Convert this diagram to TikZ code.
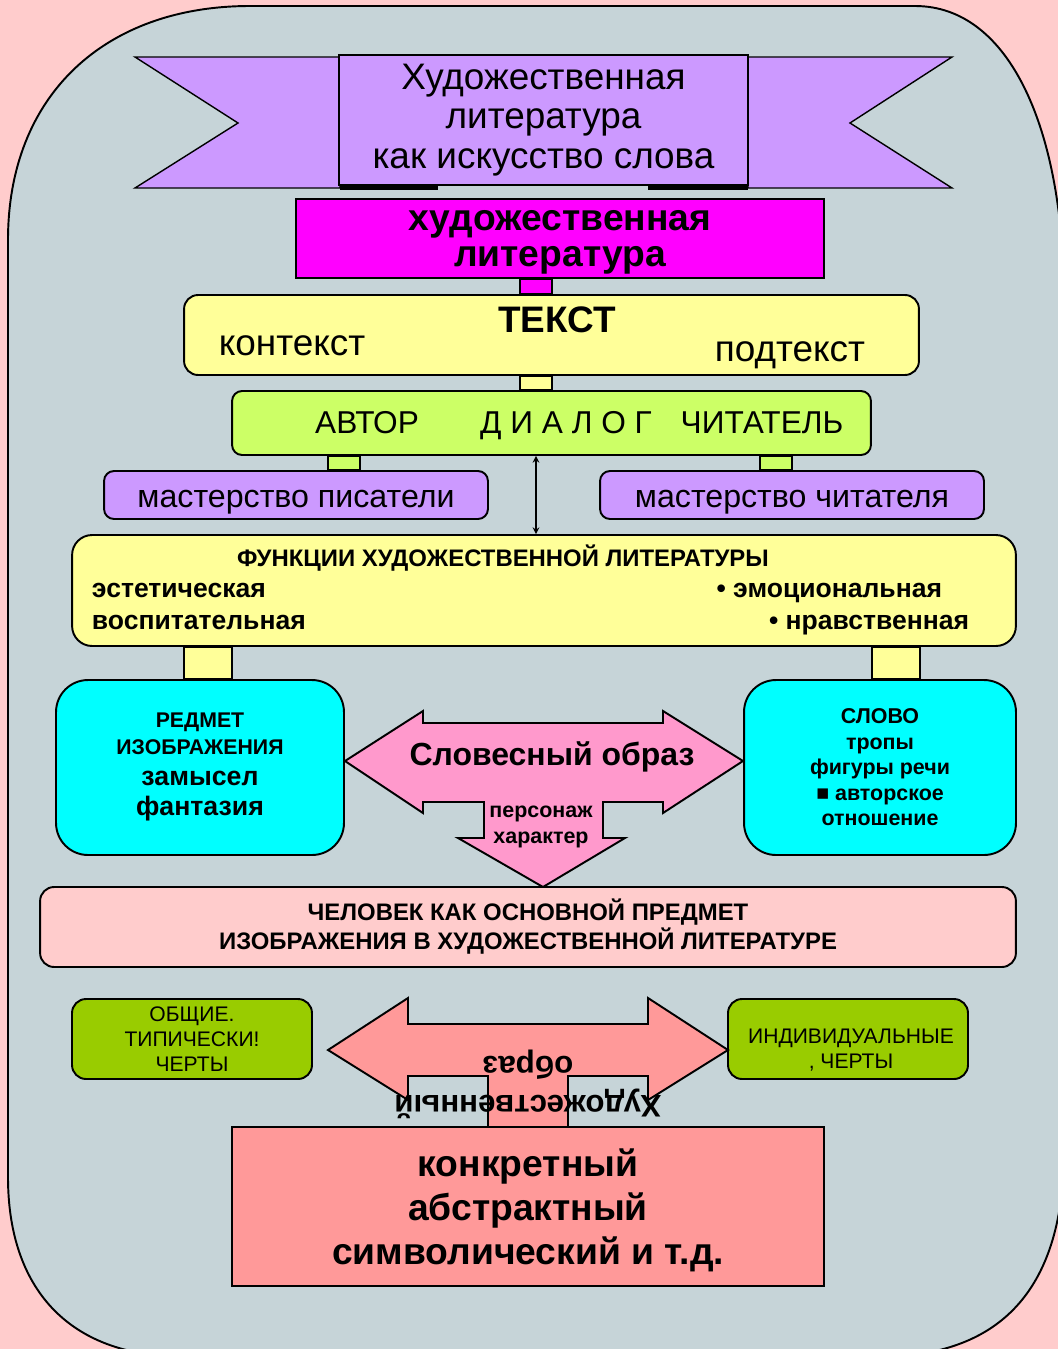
\documentclass[tikz,border=0pt]{standalone}
\usepackage{fontspec}
\setmainfont{Liberation Sans}
\usetikzlibrary{calc}

\definecolor{bgpink}{HTML}{FFCCCC}
\definecolor{panel}{HTML}{C6D4D8}
\definecolor{violet}{HTML}{CC99FF}
\definecolor{magent}{HTML}{FF00FF}
\definecolor{lyellow}{HTML}{FFFF99}
\definecolor{lime}{HTML}{CCFF66}
\definecolor{aqua}{HTML}{00FFFF}
\definecolor{rosa}{HTML}{FF99CC}
\definecolor{olive}{HTML}{99CC00}
\definecolor{salmon}{HTML}{FF9999}

\newcommand{\setfs}[2]{\fontsize{#1}{#2}\selectfont}

\begin{document}
\begin{tikzpicture}[x=0.02cm, y=-0.02cm, line width=1.1pt,
	box/.style={draw=black, line width=1.1pt, inner sep=0pt, align=center},
	stem/.style={draw=black, line width=1.1pt},
	lbl/.style={inner sep=0pt, align=center}]
			\useasboundingbox (0,0) rectangle (1058,1349);
			\clip (0,0) rectangle (1058,1349);
			\fill[bgpink] (0,0) rectangle (1058,1349);
			% panel
			\draw[fill=panel] (8,1177) -- (8,240) .. controls (8,95) and (105,6) .. (250,6) -- (915,6) .. controls (1010,6) and (1064,130) .. (1064,300) -- (1064,1150) .. controls (1064,1290) and (1000,1349) .. (900,1356) -- (170,1356) .. controls (70,1352) and (8,1290) .. (8,1177) -- cycle;

			% ribbon
			\draw[fill=violet, line width=0.8pt] (135,57) -- (340,57) -- (340,188) -- (135,188) -- (238,123) -- cycle;
			\draw[fill=violet, line width=0.8pt] (952,57) -- (748,57) -- (748,188) -- (952,188) -- (850,123) -- cycle;
			\draw[line width=3pt] (340,187) -- (438,187);
			\draw[line width=3pt] (648,187) -- (748,187);
			\node[box, fill=violet, minimum width=8.18cm, minimum height=2.6cm, font=\setfs{21}{22.5}] (ban) at (543.5,120) {Художественная\\литература\\как искусство слова};

			\node[box, fill=magent, minimum width=10.56cm, minimum height=1.58cm] (lit) at (560,238.5) {};
			\node[lbl, font=\bfseries\setfs{21.2}{20.5}] at (560,242.5) {художественная\\литература};

			\node[box, fill=lyellow, rounded corners=0.28cm, minimum width=14.7cm, minimum height=1.6cm] (txt) at (551.5,335) {};
			\node[lbl, font=\bfseries\setfs{21}{22}] at (557,320) {ТЕКСТ};
			\node[lbl, font=\setfs{21}{22}] at (292,346) {контекст};
			\node[lbl, font=\setfs{21}{22}] at (790,355) {подтекст};

			\node[box, fill=lime, rounded corners=0.2cm, minimum width=12.78cm, minimum height=1.28cm] (dlg) at (551.5,423) {};
			\node[lbl, font=\setfs{18}{20}] at (367,423) {АВТОР};
			\node[lbl, font=\setfs{18}{20}] at (566,426) {Д И А Л О Г};
			\node[lbl, font=\setfs{18}{20}] at (762,423) {ЧИТАТЕЛЬ};

			\node[box, fill=violet, rounded corners=0.2cm, minimum width=7.68cm, minimum height=0.96cm] (mpis) at (296,495) {};
			\node[lbl, font=\setfs{18.3}{20}] at (296,502) {мастерство писатели};
			\node[box, fill=violet, rounded corners=0.2cm, minimum width=7.68cm, minimum height=0.96cm] (mcht) at (792,495) {};
			\node[lbl, font=\setfs{18.3}{20}] at (792,502) {мастерство читателя};

			\node[box, fill=lyellow, rounded corners=0.4cm, minimum width=18.88cm, minimum height=2.22cm] (fun) at (544,590.5) {};
			\node[lbl, font=\bfseries\setfs{13.6}{15}] at (503,558) {ФУНКЦИИ ХУДОЖЕСТВЕННОЙ ЛИТЕРАТУРЫ};
			\node[lbl, anchor=west, font=\bfseries\setfs{15.1}{16}] at (91,590) {эстетическая};
			\node[lbl, anchor=west, font=\bfseries\setfs{15.1}{16}] at (91,622) {воспитательная};
			\node[lbl, anchor=east, font=\bfseries\setfs{15.1}{16}] at (943,593) {• эмоциональная};
			\node[lbl, anchor=east, font=\bfseries\setfs{15.1}{16}] at (970,625) {• нравственная};

			\node[box, fill=aqua, rounded corners=0.64cm, minimum width=5.76cm, minimum height=3.5cm] (pred) at (200,767.5) {};
			\node[lbl, font=\bfseries\setfs{12.1}{14}] at (200,722) {РЕДМЕТ};
			\node[lbl, font=\bfseries\setfs{12.1}{14}] at (200,747) {ИЗОБРАЖЕНИЯ};
			\node[lbl, font=\bfseries\setfs{15.2}{17}] at (200,778) {замысел};
			\node[lbl, font=\bfseries\setfs{15.2}{17}] at (200,809) {фантазия};
			\node[box, fill=aqua, rounded corners=0.64cm, minimum width=5.44cm, minimum height=3.5cm, font=\bfseries\setfs{12.2}{14.5}] (slovo) at (880,767.5) {СЛОВО\\тропы\\фигуры речи\\■ авторское\\отношение};

			% stems
			\draw[stem, fill=magent] (520,0 |- lit.south) rectangle (552,0 |- txt.north);
			\draw[stem, fill=lyellow] (520,0 |- txt.south) rectangle (552,0 |- dlg.north);
			\draw[stem, fill=lime] (328,0 |- dlg.south) rectangle (360,0 |- mpis.north);
			\draw[stem, fill=lime] (760,0 |- dlg.south) rectangle (792,0 |- mcht.north);
			\draw[stem, fill=lyellow] (184,0 |- fun.south) rectangle (232,0 |- pred.north);
			\draw[stem, fill=lyellow] (872,0 |- fun.south) rectangle (920,0 |- slovo.north);
			\draw[<->, >=stealth, line width=0.7pt] (536,0 |- dlg.south) -- (536,0 |- fun.north);

			% Словесный образ
			\draw[fill=rosa] (345,761) -- (423,711) -- (423,723) -- (663,723) -- (663,711) -- (743,761) -- (663,813) -- (663,802) -- (603,802) -- (603,838) -- (625,838) -- (543,887) -- (458,838) -- (484,838) -- (484,802) -- (423,802) -- (423,813) -- cycle;
			\node[lbl, font=\bfseries\setfs{18.2}{19}] at (552,757) {Словесный образ};
			\node[lbl, font=\bfseries\setfs{12.2}{14.7}] at (541,827) {персонаж\\характер};

			\node[box, fill=bgpink, rounded corners=0.28cm, minimum width=19.52cm, minimum height=1.6cm, font=\bfseries\setfs{13.6}{16.5}] (chel) at (528,927) {ЧЕЛОВЕК КАК ОСНОВНОЙ ПРЕДМЕТ\\ИЗОБРАЖЕНИЯ В ХУДОЖЕСТВЕННОЙ ЛИТЕРАТУРЕ};

			\node[box, fill=olive, rounded corners=0.28cm, minimum width=4.8cm, minimum height=1.6cm, font=\setfs{12}{14.2}] (obsh) at (192,1039) {ОБЩИЕ.\\ТИПИЧЕСКИ!\\ЧЕРТЫ};
			\node[box, fill=olive, rounded corners=0.28cm, minimum width=4.8cm, minimum height=1.6cm] (ind) at (848,1039) {};
			\node[lbl, font=\setfs{12}{14.7}] at (851,1050) {ИНДИВИДУАЛЬНЫЕ\\, ЧЕРТЫ};

			% образ
			\draw[fill=salmon] (328,1050) -- (408,998) -- (408,1024) -- (648,1024) -- (648,998) -- (728,1050) -- (648,1100) -- (648,1076) -- (568,1076) -- (568,1130) -- (488,1130) -- (488,1076) -- (408,1076) -- (408,1100) -- cycle;
			\node[box, fill=salmon, minimum width=11.84cm, minimum height=3.18cm] (konk) at (528,1206.5) {};
			\node[lbl, font=\bfseries\setfs{21.2}{25}] at (528,1210.5) {конкретный\\абстрактный\\символический и т.д.};
			\node[lbl, rotate=180, font=\bfseries\setfs{17.8}{18}] at (528,1065) {образ};
			\node[lbl, rotate=180, font=\bfseries\setfs{17.8}{18}] at (528,1104) {Художественный};
			\end{tikzpicture}
\end{document}
